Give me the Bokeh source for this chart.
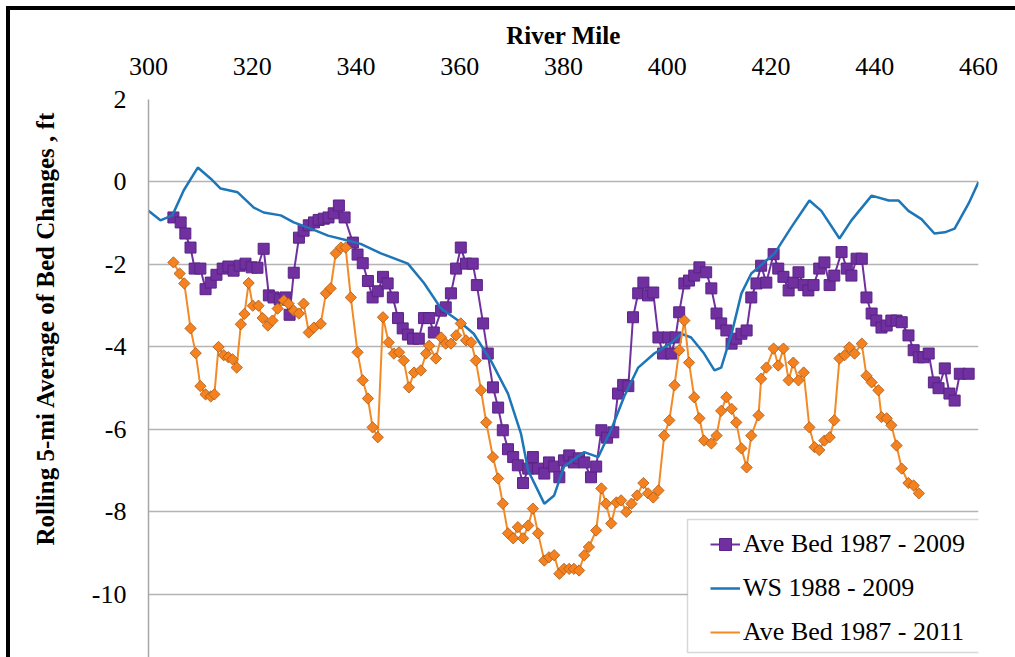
import math
from bokeh.plotting import figure
from bokeh.models import (Range1d, FixedTicker, Legend, LegendItem, BoxAnnotation,
                          InlineStyleSheet)
from bokeh.embed import file_html
from bokeh.resources import INLINE

# ---------------- data ----------------
x_ticks = [300, 320, 340, 360, 380, 400, 420, 440, 460]
y_ticks = [2, 0, -2, -4, -6, -8, -10]

purple_mile = [304.8, 306.2, 307.1, 308.1, 308.9, 310.0, 311.0, 312.0, 313.1, 314.3,
               315.4, 316.4, 317.6, 318.7, 319.9, 321.0, 322.2, 323.2, 324.1, 325.3,
               326.4, 327.2, 328.0, 329.0, 329.9, 330.9, 331.9, 332.8, 333.8, 334.7,
               335.7, 336.7, 337.8, 339.4, 340.3, 341.3, 342.3, 343.2, 344.2, 345.2,
               346.1, 347.1, 348.1, 349.0, 350.0, 351.0, 352.1, 353.1, 354.1, 355.0,
               356.4, 357.3, 358.3, 359.3, 360.2, 361.2, 362.5, 363.3, 364.5, 365.4,
               366.4, 367.4, 368.3, 369.3, 370.3, 371.2, 372.2, 373.2, 374.1, 375.1,
               376.3, 377.2, 378.2, 379.2, 380.1, 381.1, 382.0, 383.0, 384.0, 385.3,
               386.3, 387.3, 388.4, 389.6, 390.5, 391.5, 392.5, 393.4, 394.4, 395.4,
               396.3, 397.3, 398.3, 399.2, 400.2, 400.8, 401.6, 402.3, 403.3, 404.2,
               405.2, 406.2, 407.5, 408.5, 409.5, 410.4, 411.4, 412.4, 413.3, 414.3,
               415.3, 416.2, 417.2, 418.1, 419.1, 420.5, 421.4, 422.4, 423.4, 424.3,
               425.3, 426.3, 427.2, 428.2, 429.3, 430.3, 431.3, 432.2, 433.6, 434.6,
               435.5, 436.5, 437.5, 438.4, 439.4, 440.3, 441.3, 442.3, 443.2, 444.2,
               445.2, 446.5, 447.5, 448.5, 449.4, 450.4, 451.4, 452.3, 453.5, 454.4,
               455.4, 456.4, 458.1]
purple_val = [-0.86, -0.98, -1.25, -1.59, -2.10, -2.10, -2.60, -2.44, -2.25, -2.10,
              -2.05, -2.15, -2.03, -1.98, -2.07, -2.08, -1.62, -2.75, -2.80, -2.85,
              -2.80, -3.22, -2.20, -1.35, -1.18, -1.05, -0.98, -0.92, -0.89, -0.86,
              -0.76, -0.57, -0.86, -1.47, -1.76, -1.97, -2.40, -2.80, -2.65, -2.30,
              -2.46, -2.80, -3.30, -3.55, -3.70, -3.80, -3.80, -3.30, -3.30, -3.65,
              -3.12, -3.04, -2.70, -2.10, -1.59, -1.98, -1.98, -2.50, -3.43, -4.16,
              -4.98, -5.47, -6.02, -6.48, -6.67, -6.87, -7.30, -6.95, -6.67, -6.95,
              -7.07, -6.80, -6.90, -7.16, -6.75, -6.63, -6.80, -6.70, -6.80, -7.16,
              -6.90, -6.02, -6.20, -6.07, -5.13, -4.92, -4.95, -3.28, -2.70, -2.44,
              -2.75, -2.68, -3.77, -4.16, -3.77, -4.16, -3.77, -3.16, -2.46, -2.39,
              -2.27, -2.07, -2.19, -2.58, -3.19, -3.43, -3.60, -3.92, -3.80, -3.68,
              -3.60, -2.80, -2.46, -2.03, -2.44, -1.75, -2.10, -2.30, -2.63, -2.44,
              -2.19, -2.50, -2.63, -2.50, -2.10, -1.95, -2.50, -2.27, -1.70, -2.10,
              -2.27, -1.86, -1.86, -2.80, -3.19, -3.36, -3.53, -3.48, -3.36, -3.36,
              -3.40, -3.72, -4.08, -4.25, -4.25, -4.16, -4.86, -5.00, -4.52, -5.13,
              -5.30, -4.65, -4.65]

ws_mile = [300.0, 302.3, 304.6, 306.8, 309.5, 312.0, 313.9, 317.2, 320.3, 322.2,
           325.5, 328.0, 331.3, 334.6, 338.4, 340.9, 344.8, 350.0, 353.1, 356.4,
           359.7, 362.7, 366.0, 369.3, 371.8, 373.2, 376.3, 378.2, 380.1, 384.0,
           386.7, 389.2, 391.7, 394.4, 397.5, 400.8, 402.7, 404.6, 407.1, 409.1,
           410.4, 412.4, 414.3, 416.2, 420.7, 423.9, 427.4, 429.7, 433.2, 435.5,
           439.4, 442.7, 444.6, 446.5, 449.0, 451.5, 453.5, 455.4, 458.1, 460.0]
ws_val = [-0.70, -0.93, -0.81, -0.20, 0.35, 0.08, -0.16, -0.25, -0.62, -0.74,
          -0.81, -0.98, -1.13, -1.30, -1.42, -1.50, -1.73, -1.98, -2.45, -3.07,
          -3.36, -3.68, -4.33, -5.13, -6.10, -7.00, -7.80, -7.60, -6.90, -6.55,
          -6.67, -6.00, -5.20, -4.50, -4.16, -3.90, -3.68, -3.77, -4.16, -4.57,
          -4.50, -3.68, -2.70, -2.22, -1.73, -1.10, -0.45, -0.70, -1.37, -0.93,
          -0.33, -0.45, -0.45, -0.70, -0.90, -1.25, -1.22, -1.13, -0.52, 0.00]

orange_mile = [304.8, 306.0, 306.9, 308.1, 309.1, 310.0, 311.0, 312.0, 312.7, 313.5,
               314.5, 315.4, 316.2, 317.0, 317.8, 318.5, 319.3, 320.1, 321.2, 322.0,
               323.0, 323.9, 324.9, 326.1, 327.0, 328.0, 329.0, 329.9, 330.9, 331.9,
               333.2, 334.2, 335.1, 336.1, 337.1, 338.0, 339.0, 340.3, 341.3, 342.3,
               343.2, 344.2, 345.2, 346.3, 347.3, 348.3, 349.2, 350.2, 351.2, 352.5,
               353.5, 354.1, 355.4, 356.4, 357.3, 358.3, 359.3, 360.2, 361.2, 362.2,
               363.1, 364.1, 365.1, 366.4, 367.4, 368.3, 369.3, 370.3, 371.2, 372.2,
               373.2, 374.1, 375.1, 376.3, 377.2, 378.2, 379.2, 380.1, 381.1, 382.0,
               383.0, 384.0, 384.9, 386.3, 387.3, 388.2, 389.2, 390.2, 391.1, 392.1,
               393.1, 394.2, 395.4, 396.3, 397.3, 398.3, 399.4, 400.4, 401.4, 402.3,
               403.3, 404.2, 405.2, 406.2, 407.1, 408.5, 409.5, 410.4, 411.4, 412.4,
               413.3, 414.3, 415.3, 416.2, 417.6, 418.1, 419.1, 420.5, 421.4, 422.4,
               423.4, 424.3, 425.3, 426.3, 427.4, 428.4, 429.3, 430.3, 431.3, 432.2,
               433.2, 434.2, 435.1, 436.1, 437.5, 438.4, 439.4, 440.7, 441.3, 442.3,
               443.2, 444.2, 445.2, 446.5, 447.5, 448.5]
orange_val = [-1.95, -2.22, -2.46, -3.55, -4.15, -4.95, -5.15, -5.20, -5.15, -4.00,
              -4.20, -4.25, -4.30, -4.50, -3.45, -3.20, -2.45, -3.00, -3.00, -3.30,
              -3.48, -3.36, -3.07, -2.87, -2.95, -3.12, -3.19, -2.95, -3.65, -3.53,
              -3.44, -2.70, -2.58, -1.73, -1.59, -1.59, -2.80, -4.13, -4.81, -5.25,
              -5.95, -6.19, -3.28, -3.89, -4.16, -4.13, -4.33, -4.98, -4.62, -4.57,
              -4.16, -3.97, -4.28, -3.77, -3.92, -3.92, -3.72, -3.43, -3.84, -3.89,
              -4.33, -5.05, -5.83, -6.67, -7.19, -7.80, -8.52, -8.64, -8.37, -8.64,
              -8.33, -7.92, -8.52, -9.18, -9.10, -9.05, -9.50, -9.38, -9.38, -9.38,
              -9.42, -9.05, -8.85, -8.45, -7.43, -7.80, -8.28, -7.77, -7.72, -8.00,
              -7.80, -7.60, -7.30, -7.55, -7.65, -7.48, -6.15, -5.78, -4.93, -4.08,
              -3.36, -4.38, -5.22, -5.73, -6.27, -6.34, -6.15, -5.55, -5.22, -5.50,
              -5.83, -6.46, -6.92, -6.15, -5.66, -4.77, -4.50, -4.04, -4.45, -4.04,
              -4.81, -4.38, -4.81, -4.62, -5.95, -6.43, -6.50, -6.27, -6.19, -5.78,
              -4.28, -4.20, -4.01, -4.16, -3.92, -4.70, -4.86, -5.05, -5.70, -5.73,
              -5.90, -6.39, -6.95, -7.30, -7.36, -7.55]

series_names = ["Ave Bed 1987 - 2009", "WS 1988 - 2009", "Ave Bed 1987 - 2011"]
y_title = "Rolling 5-mi Average of Bed Changes , ft"

# ---------------- figure ----------------
SERIF = "Liberation Serif"
p = figure(width=1015, height=657, x_axis_location="above",
           x_range=Range1d(300, 460), y_range=Range1d(-11.53, 2),
           output_backend="svg", toolbar_location=None,
           min_border_left=148, min_border_right=37, min_border_top=99,
           min_border_bottom=0)
p.outline_line_color = None
p.background_fill_color = "white"
p.border_fill_color = "white"
# black page frame along the top and left edges, drawn above the canvas
p.stylesheets = [InlineStyleSheet(css="""
:host { position: relative; }
:host::after {
  content: "";
  position: absolute;
  left: 6px; top: 6px; right: 0px; bottom: 0px;
  border-top: 4px solid #000;
  border-left: 4px solid #000;
  pointer-events: none;
  z-index: 100;
}
""")]

# x axis (top)
xa = p.xaxis[0]
xa.ticker = FixedTicker(ticks=x_ticks)
xa.axis_line_color = None
xa.major_tick_line_color = None
xa.minor_tick_line_color = None
xa.major_tick_out = 0
xa.major_label_standoff = 25
xa.major_label_text_font = SERIF
xa.major_label_text_font_size = "26px"
xa.major_label_text_color = "black"
xa.axis_label = "River Mile"
xa.axis_label_text_font = SERIF
xa.axis_label_text_font_style = "bold"
xa.axis_label_text_font_size = "25px"
xa.axis_label_text_color = "black"
xa.axis_label_standoff = 6

# y axis (left); leading no-break spaces lift the title toward the top, as in the source
ya = p.yaxis[0]
ya.ticker = FixedTicker(ticks=y_ticks)
ya.major_label_overrides = {t: str(t) for t in y_ticks}
ya.axis_line_color = "#A6A6A6"
ya.axis_line_width = 1.5
ya.major_tick_line_color = None
ya.minor_tick_line_color = None
ya.major_tick_out = 0
ya.major_label_standoff = 22
ya.major_label_text_font = SERIF
ya.major_label_text_font_size = "26px"
ya.major_label_text_color = "black"
ya.axis_label = "\u00a0" * 16 + y_title
ya.axis_label_text_font = SERIF
ya.axis_label_text_font_style = "bold"
ya.axis_label_text_font_size = "25px"
ya.axis_label_text_color = "black"
ya.axis_label_standoff = 30

p.xgrid.grid_line_color = None
p.ygrid.ticker = FixedTicker(ticks=y_ticks)
p.ygrid.grid_line_color = "#B4B4B4"
p.ygrid.grid_line_width = 1.5

# ---------------- series ----------------
PURPLE = "#7030A0"
BLUE = "#1D76B8"
ORANGE = "#F28A25"

pl = p.line(purple_mile, purple_val, line_color=PURPLE, line_width=2)
pm = p.scatter(purple_mile, purple_val, marker="square", size=11,
               fill_color=PURPLE, line_color="#5A2385", line_width=1)
bl = p.line(ws_mile, ws_val, line_color=BLUE, line_width=2.5)
ol = p.line(orange_mile, orange_val, line_color=ORANGE, line_width=2)
om = p.scatter(orange_mile, orange_val, marker="square", angle=math.pi / 4, size=8,
               fill_color="#F5821F", line_color="#A65A1A", line_width=0.8)
# legend-only diamond glyph (no data)
om_leg = p.scatter(x=[], y=[], marker="diamond", size=14,
                   fill_color="#F5821F", line_color="#A65A1A", line_width=0.8)

# legend frame
p.add_layout(BoxAnnotation(left=687, right=996, top=519, bottom=652,
                           left_units="canvas", right_units="canvas",
                           top_units="canvas", bottom_units="canvas",
                           fill_color="white", fill_alpha=1.0,
                           line_color="#7F7F7F", line_width=1.5))

legend = Legend(items=[LegendItem(label=series_names[0], renderers=[pl, pm]),
                       LegendItem(label=series_names[1], renderers=[bl]),
                       LegendItem(label=series_names[2], renderers=[ol, om_leg])],
                location=(562, 10), padding=0, margin=0, spacing=14,
                glyph_width=30, glyph_height=30, label_height=30, label_standoff=3,
                label_text_font=SERIF, label_text_font_size="26px",
                label_text_color="black",
                border_line_color=None, background_fill_alpha=0)
p.add_layout(legend)

open("out.html", "w").write(file_html(p, INLINE))
